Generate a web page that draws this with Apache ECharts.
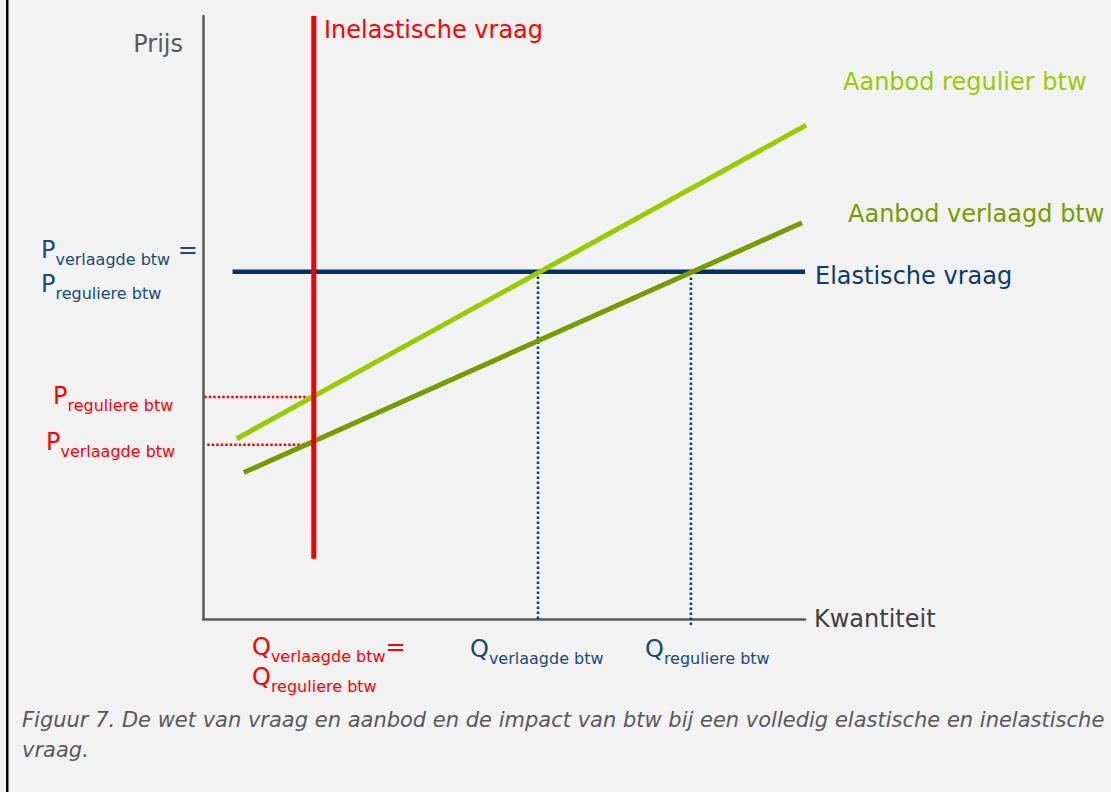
<!DOCTYPE html>
<html>
<head>
<meta charset="utf-8">
<script src="https://cdn.jsdelivr.net/npm/echarts@6/dist/echarts.min.js"></script>
<style>
html,body{margin:0;padding:0;background:#f2f2f2;}
#chart{width:1111px;height:792px;}
</style>
</head>
<body>
<div id="chart"></div>
<script>
// Quantity (x) and price (y) on a 0-100 schematic scale
const inelasticDemand = [[18.4, 10], [18.4, 100]];
const elasticDemand = [[4.9, 57.6], [100, 57.6]];
const supplyRegular = [[5.6, 29.9], [100.2, 81.9]];
const supplyReduced = [[6.8, 24.3], [99.5, 65.7]];
const priceRegularGuide = [[0.2, 36.8], [18.4, 36.8]];
const priceReducedGuide = [[0.7, 28.9], [18.4, 28.9]];
const qtyReducedGuide = [[55.65, 0], [55.65, 57.0]];
const qtyRegularGuide = [[81.05, -1], [81.05, 57.0]];

const seriesNames = ['Inelastische vraag', 'Elastische vraag', 'Aanbod regulier btw', 'Aanbod verlaagd btw'];
const axisNames = ['Kwantiteit', 'Prijs'];
const caption = ['Figuur 7. De wet van vraag en aanbod en de impact van btw bij een volledig elastische en inelastische', 'vraag.'];

const FONT = '"DejaVu Sans", Verdana, sans-serif';
const RED = '#ff0000', NAVY = '#0b3c6d', NAVYT = '#1a4a7a', LGREEN = '#99cc00', OLIVE = '#779c00', GRAY = '#595959';

const chart = echarts.init(document.getElementById('chart'), null, {renderer: 'svg'});

function line(name, data, color, width, type, z) {
  return {
    name: name, type: 'line', data: data, symbol: 'none', silent: true, clip: false, z: z,
    lineStyle: {color: color, width: width, type: type || 'solid', cap: 'butt'}
  };
}

function subLabel(main, sub, tail, x, y, color) {
  return {
    type: 'text', x: x, y: y, silent: true,
    style: {
      text: '{p|' + main + '}{s|' + sub + '}' + (tail ? '{p|' + tail + '}' : ''),
      fill: color, textVerticalAlign: 'top', verticalAlign: 'top',
      rich: {
        p: {fontSize: 24, fontFamily: FONT, verticalAlign: 'top', fill: color},
        s: {fontSize: 16, fontFamily: FONT, verticalAlign: 'top', padding: [13, 0, 0, 0], fill: color}
      }
    }
  };
}

function plain(text, x, y, color, size, align) {
  return {
    type: 'text', x: x, y: y, silent: true,
    style: {text: text, fill: color, font: size + 'px ' + FONT, textAlign: align || 'left', textVerticalAlign: 'middle', verticalAlign: 'middle'}
  };
}

const option = {
  backgroundColor: '#f2f2f2',
  animation: false,
  grid: {left: 203, top: 16, width: 602, height: 603},
  xAxis: {
    type: 'value', min: 0, max: 100, name: axisNames[0], nameLocation: 'end', nameGap: 9,
    nameTextStyle: {color: '#404040', fontSize: 24, fontFamily: FONT, verticalAlign: 'middle'},
    axisLine: {show: true, onZero: false, lineStyle: {color: GRAY, width: 2.5}},
    axisTick: {show: false}, axisLabel: {show: false}, splitLine: {show: false}
  },
  yAxis: {
    type: 'value', min: 0, max: 100,
    axisLine: {show: true, onZero: false, lineStyle: {color: GRAY, width: 2.5}},
    axisTick: {show: false}, axisLabel: {show: false}, splitLine: {show: false}
  },
  series: [
    line('guide-p-reg', priceRegularGuide, RED, 2.5, [2.5, 2], 1),
    line('guide-p-red', priceReducedGuide, RED, 2.5, [2.5, 2], 1),
    line('guide-q-red', qtyReducedGuide, NAVY, 2.5, [2.5, 2.5], 1),
    line('guide-q-reg', qtyRegularGuide, NAVY, 2.5, [2.5, 2.5], 1),
    line(seriesNames[1], elasticDemand, '#003366', 4.5, 'solid', 2),
    line(seriesNames[2], supplyRegular, LGREEN, 5, 'solid', 3),
    line(seriesNames[3], supplyReduced, OLIVE, 5, 'solid', 4),
    line(seriesNames[0], inelasticDemand, '#f00000', 5, 'solid', 5)
  ],
  graphic: [
    {type: 'rect', shape: {x: 6, y: 0, width: 2.5, height: 792}, style: {fill: '#000'}, silent: true},
    plain(axisNames[1], 183, 44, GRAY, 24, 'right'),
    plain(seriesNames[0], 324, 30, RED, 24),
    plain(seriesNames[2], 843, 82, LGREEN, 24),
    plain(seriesNames[3], 848, 214, OLIVE, 24),
    plain(seriesNames[1], 815, 276, NAVY, 24),
    subLabel('P', 'verlaagde btw', ' =', 41, 238, NAVYT),
    subLabel('P', 'reguliere btw', '', 41, 272, NAVYT),
    subLabel('P', 'reguliere btw', '', 53, 384, RED),
    subLabel('P', 'verlaagde btw', '', 46, 430, RED),
    subLabel('Q', 'verlaagde btw', '=', 252, 635, RED),
    subLabel('Q', 'reguliere btw', '', 252, 665, RED),
    subLabel('Q', 'verlaagde btw', '', 470, 637, NAVYT),
    subLabel('Q', 'reguliere btw', '', 645, 637, NAVYT),
    {type: 'text', x: 22, y: 720, silent: true, style: {text: caption[0], fill: GRAY, font: 'italic 21px "DejaVu Sans", Verdana, sans-serif', textVerticalAlign: 'middle', verticalAlign: 'middle'}},
    {type: 'text', x: 22, y: 750, silent: true, style: {text: caption[1], fill: GRAY, font: 'italic 21px "DejaVu Sans", Verdana, sans-serif', textVerticalAlign: 'middle', verticalAlign: 'middle'}}
  ]
};
chart.setOption(option);
</script>
</body>
</html>
